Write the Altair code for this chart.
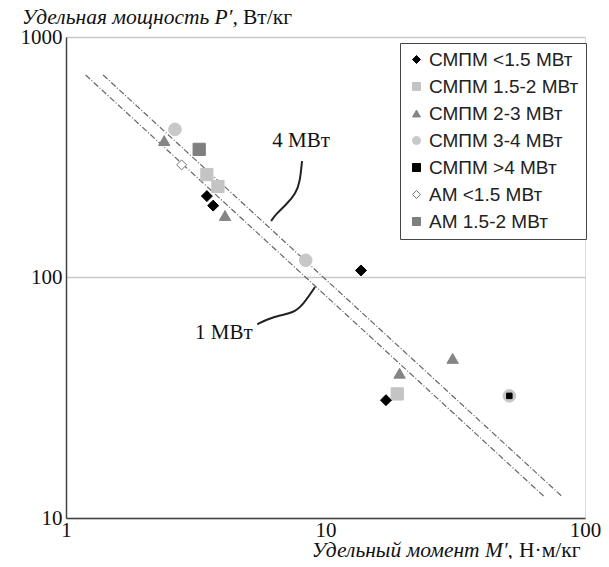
import altair as alt
import pandas as pd

# ---- data ----
categories = ["СМПМ <1.5 МВт", "СМПМ 1.5-2 МВт", "СМПМ 2-3 МВт", "СМПМ 3-4 МВт",
              "СМПМ >4 МВт", "АМ <1.5 МВт", "АМ 1.5-2 МВт"]
fills = ["#000000", "#c4c4c4", "#858585", "#c8c8c8", "#000000", "#ffffff", "#7f7f7f"]
strokes = ["#000000", "#c4c4c4", "#858585", "#c8c8c8", "#000000", "#777777", "#7f7f7f"]
shapes = ["diamond", "square", "triangle-up", "circle", "square", "diamond", "square"]
sizes = [120, 150, 130, 160, 30, 100, 150]

pt_cat = ["СМПМ 3-4 МВт", "СМПМ 2-3 МВт", "АМ 1.5-2 МВт", "АМ <1.5 МВт",
          "СМПМ 1.5-2 МВт", "СМПМ 1.5-2 МВт", "СМПМ <1.5 МВт", "СМПМ <1.5 МВт",
          "СМПМ 2-3 МВт", "СМПМ 3-4 МВт", "СМПМ <1.5 МВт", "СМПМ 2-3 МВт",
          "СМПМ 2-3 МВт", "СМПМ 1.5-2 МВт", "СМПМ <1.5 МВт", "СМПМ 3-4 МВт",
          "СМПМ >4 МВт"]
pt_M = [2.63, 2.39, 3.26, 2.79, 3.49, 3.85, 3.49, 3.69, 4.10, 8.39, 13.7, 30.9,
        19.3, 18.9, 17.1, 51.1, 51.1]
pt_P = [413, 371, 341, 294, 268, 239, 218, 199, 181, 118, 107, 46.1, 40.0, 32.8,
        30.9, 32.2, 32.2]

# dashed trend lines (endpoints)
line_id = ["1 МВт", "1 МВт", "4 МВт", "4 МВт"]
line_M = [1.19, 69.5, 1.39, 81.5]
line_P = [695, 12.3, 695, 12.3]

# leader curves
lead_id = ["4"] * 6 + ["1"] * 6
lead_ord = list(range(6)) + list(range(6))
lead_M = [8.12, 7.97, 7.70, 7.04, 6.45, 6.17, 5.46, 5.95, 6.68, 7.49, 8.19, 9.11]
lead_P = [305, 249.5, 224.6, 200, 183.7, 171.8, 63.9, 66.9, 69.8, 71.2, 76.9, 91.3]

ann_text = ["4 МВт", "1 МВт"]
ann_M = [8.05, 4.06]
ann_P = [369.5, 58.8]

x_ticks = [1, 10, 100]
y_ticks = [10, 100, 1000]

# ---- build ----
size_map = dict(zip(categories, sizes))
pts = pd.DataFrame({"M": pt_M, "P": pt_P, "cat": pt_cat})
pts["sz"] = pts["cat"].map(size_map)
lines = pd.DataFrame({"M": line_M, "P": line_P, "id": line_id})
leads = pd.DataFrame({"M": lead_M, "P": lead_P, "id": lead_id, "o": lead_ord})
anns = pd.DataFrame({"M": ann_M, "P": ann_P, "t": ann_text})

SERIF = "Liberation Serif"
xs = alt.Scale(type="log", domain=[1, 100], nice=False)
ys = alt.Scale(type="log", domain=[10, 1000], nice=False)

xax = alt.Axis(values=x_ticks, format="d", title=None, grid=False, ticks=False,
               labelFont=SERIF, labelFontSize=21, labelColor="#111",
               labelFlush=False, labelPadding=1, domainColor="#444", domainWidth=1.5)
yax = alt.Axis(values=y_ticks, format="d", title=None, grid=True, ticks=False,
               gridColor="#c8c8c8", gridWidth=1.5,
               labelFont=SERIF, labelFontSize=21, labelColor="#111",
               labelPadding=4, domainColor="#444", domainWidth=1.5)

base_lines = alt.Chart(lines).mark_line(
    color="#666", strokeWidth=1.2, strokeDash=[6, 2, 1, 2]
).encode(
    x=alt.X("M:Q", scale=xs, axis=xax),
    y=alt.Y("P:Q", scale=ys, axis=yax),
    detail="id:N",
)

leaders = alt.Chart(leads).mark_line(
    color="#222", strokeWidth=2, interpolate="basis"
).encode(
    x=alt.X("M:Q", scale=xs),
    y=alt.Y("P:Q", scale=ys),
    detail="id:N",
    order="o:Q",
)

leg = alt.Legend(title=None, orient="none", legendX=334, legendY=6,
                 strokeColor="#444", fillColor="#ffffff", padding=7,
                 labelFont="Liberation Sans", labelFontSize=19, labelColor="#222",
                 rowPadding=7, symbolSize=64, symbolStrokeWidth=1, labelOffset=3)

points = alt.Chart(pts).mark_point(filled=True, strokeWidth=1, opacity=1).encode(
    x=alt.X("M:Q", scale=xs),
    y=alt.Y("P:Q", scale=ys),
    fill=alt.Fill("cat:N", scale=alt.Scale(domain=categories, range=fills), legend=leg),
    stroke=alt.Stroke("cat:N", scale=alt.Scale(domain=categories, range=strokes), legend=leg),
    shape=alt.Shape("cat:N", scale=alt.Scale(domain=categories, range=shapes), legend=leg),
    size=alt.Size("sz:Q", scale=None, legend=None),
)

ann = alt.Chart(anns).mark_text(font=SERIF, fontSize=21, color="#111").encode(
    x=alt.X("M:Q", scale=xs),
    y=alt.Y("P:Q", scale=ys),
    text="t:N",
)

ytitle_i = alt.Chart(pd.DataFrame({"t": ["Удельная мощность P′,"]})).mark_text(
    font=SERIF, fontSize=21.5, fontStyle="italic", align="left", baseline="alphabetic",
    color="#111").encode(x=alt.value(-44), y=alt.value(-13), text="t:N")
ytitle_n = alt.Chart(pd.DataFrame({"t": ["Вт/кг"]})).mark_text(
    font=SERIF, fontSize=21.5, align="left", baseline="alphabetic",
    color="#111").encode(x=alt.value(177), y=alt.value(-13), text="t:N")
xtitle_i = alt.Chart(pd.DataFrame({"t": ["Удельный момент M′,"]})).mark_text(
    font=SERIF, fontSize=21.5, fontStyle="italic", align="right", baseline="alphabetic",
    color="#111").encode(x=alt.value(447), y=alt.value(520), text="t:N")
xtitle_n = alt.Chart(pd.DataFrame({"t": ["Н·м/кг"]})).mark_text(
    font=SERIF, fontSize=21.5, align="left", baseline="alphabetic",
    color="#111").encode(x=alt.value(453), y=alt.value(520), text="t:N")

chart = alt.layer(base_lines, leaders, points, ann,
                  ytitle_i, ytitle_n, xtitle_i, xtitle_n).properties(
    width=519, height=481,
    autosize=alt.AutoSizeParams(type="none"),
    padding={"left": 58, "top": 29, "right": 16, "bottom": 41},
).configure_view(stroke="#444", strokeWidth=1.5).configure(background="white")

chart.save("out.html", embed_options={"renderer": "svg", "actions": False})
